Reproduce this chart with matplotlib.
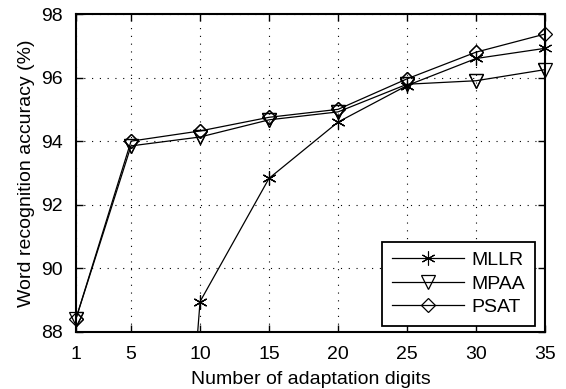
import matplotlib
matplotlib.use("Agg")
import matplotlib.pyplot as plt

plt.rcParams['font.family'] = ['Liberation Sans', 'DejaVu Sans']

x = [1, 5, 10, 15, 20, 25, 30, 35]
mllr = [55.0, 61.0, 88.95, 92.83, 94.6, 95.75, 96.6, 96.92]
mpaa = [88.4, 93.85, 94.13, 94.67, 94.92, 95.79, 95.9, 96.25]
psat = [88.4, 94.0, 94.32, 94.75, 95.0, 95.96, 96.8, 97.37]
labels = ['MLLR', 'MPAA', 'PSAT']
xticks = [1, 5, 10, 15, 20, 25, 30, 35]
yticks = [88, 90, 92, 94, 96, 98]
ymin, ymax = 88, 98

fig = plt.figure(figsize=(5.66, 3.89), dpi=100)
ax = fig.add_axes([0.134, 0.147, 0.829, 0.817])

star = (6, 2, 0)
styles = [
    dict(marker=star, ms=10, mfc='black', mec='black', mew=0.8),
    dict(marker='v', ms=10.5, mfc='none', mec='black', mew=0.9),
    dict(marker='D', ms=7, mfc='none', mec='black', mew=0.9),
]
series = [mllr, mpaa, psat]
for ys, st, lab in zip(series, styles, labels):
    ax.plot(x, ys, color='black', lw=0.9, label=lab, **st)
    idx = [i for i, v in enumerate(ys) if ymin <= v <= ymax]
    ax.plot(x, ys, ls='none', markevery=idx, clip_on=False, zorder=5, **st)

ax.set_xlim(1, 35)
ax.set_ylim(ymin, ymax)
ax.set_xticks(xticks)
ax.set_yticks(yticks)
ax.tick_params(direction='in', top=True, right=True, labelsize=14, length=5, width=1)
ax.tick_params(axis='x', pad=10)
ax.tick_params(axis='y', pad=9.5)
ax.grid(True, linestyle=(0, (1, 6)), color='black', lw=0.8)
for s in ax.spines.values():
    s.set_linewidth(1.5)
ax.set_xlabel('Number of adaptation digits', fontsize=14, labelpad=6)
ax.set_ylabel('Word recognition accuracy (%)', fontsize=14, labelpad=4)

leg = ax.legend(loc='lower right', bbox_to_anchor=(0.9787, 0.019), borderaxespad=0,
                fontsize=14, frameon=True, fancybox=False, edgecolor='black',
                handlelength=3.7, labelspacing=0.3, handletextpad=0.4, borderpad=0.5)
leg.get_frame().set_linewidth(1.3)
leg.get_frame().set_alpha(1)

fig.savefig('out.png', dpi=100)
